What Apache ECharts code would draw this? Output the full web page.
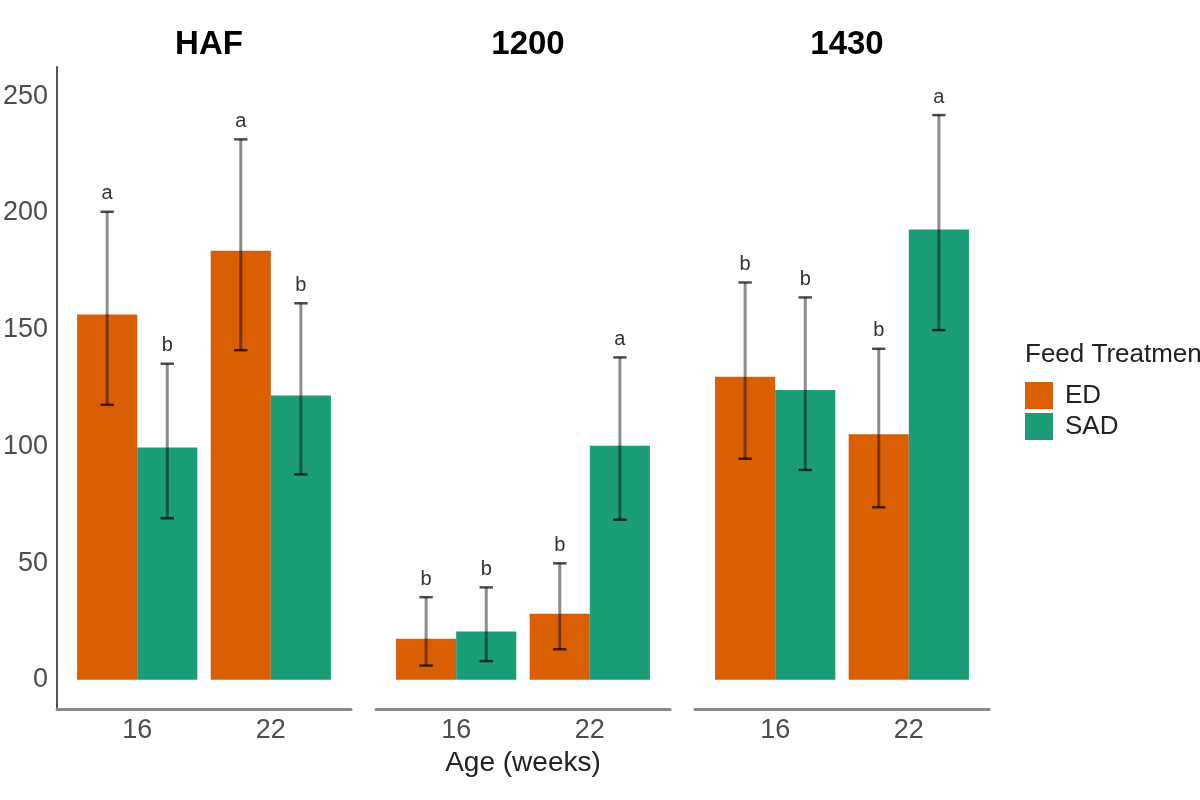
<!DOCTYPE html>
<html>
<head>
<meta charset="utf-8">
<script src="https://cdn.jsdelivr.net/npm/echarts@6/dist/echarts.min.js"></script>
<style>
    html, body { margin: 0; padding: 0; background: #fff; }
    #chart { width: 1200px; height: 800px; }
</style>
</head>
<body>
<div id="chart"></div>
<script>
// facets and x categories
var panels = ['HAF', '1200', '1430'];
var ages = ['16', '22'];
var treatments = ['ED', 'SAD'];

// means and error bar limits, per panel, per age
var edMean = [[156.5, 183.8], [17.6, 28.3], [129.8, 105.2]];
var edLow = [[117.8, 141.2], [6.1, 13.1], [94.7, 73.9]];
var edHigh = [[200.5, 231.5], [35.4, 49.9], [170.2, 141.8]];
var sadMean = [[99.5, 121.8], [20.7, 100.3], [124.1, 192.9]];
var sadLow = [[69.2, 88.0], [8.0, 68.6], [89.9, 149.8]];
var sadHigh = [[135.4, 161.3], [39.6, 138.1], [163.8, 241.9]];

// significance letters
var edLetters = [['a', 'a'], ['b', 'b'], ['b', 'b']];
var sadLetters = [['b', 'b'], ['b', 'a'], ['b', 'a']];

var colors = ['#D95F02', '#1B9E77'];
var font = 'Liberation Sans, Arial, sans-serif';

var gridLeft = [57, 376, 695];
var gridWidth = 294;

var chart = echarts.init(document.getElementById('chart'));

var grids = [], xAxes = [], yAxes = [], titles = [], series = [];

panels.forEach(function (p, pi) {
    grids.push({ left: gridLeft[pi], width: gridWidth, top: 67, height: 642 });

    titles.push({
        text: p,
        left: gridLeft[pi] + gridWidth / 2,
        top: 23,
        textAlign: 'center',
        textStyle: { fontFamily: font, fontSize: 33, fontWeight: 'bold', color: '#000' }
    });

    xAxes.push({
        type: 'value',
        gridIndex: pi,
        min: 0.4,
        max: 2.6,
        splitLine: { show: false },
        axisTick: { show: false },
        axisLine: { show: true, onZero: false, lineStyle: { color: '#8a8a8a', width: 3 } },
        axisLabel: {
            fontFamily: font,
            fontSize: 27,
            color: '#4D4D4D',
            margin: 8,
            showMinLabel: false,
            showMaxLabel: false,
            formatter: function (v) {
                return Math.abs(v - Math.round(v)) < 1e-6 && ages[Math.round(v) - 1] ? ages[Math.round(v) - 1] : '';
            }
        },
        name: pi === 1 ? 'Age (weeks)' : '',
        nameLocation: 'middle',
        nameGap: 40,
        nameTextStyle: { fontFamily: font, fontSize: 28, color: '#222' }
    });

    yAxes.push({
        type: 'value',
        gridIndex: pi,
        min: -12.5,
        max: 262.5,
        show: pi === 0,
        splitLine: { show: false },
        axisTick: { show: false },
        axisLine: { show: true, onZero: false, lineStyle: { color: '#555', width: 2 } },
        axisLabel: {
            fontFamily: font,
            fontSize: 27,
            color: '#4D4D4D',
            margin: 9,
            showMinLabel: false,
            showMaxLabel: false,
            formatter: function (v) {
                return (v >= 0 && v % 50 === 0) ? String(v) : '';
            }
        }
    });

    var groups = [
        { mean: edMean, low: edLow, high: edHigh, letters: edLetters, off: -0.225 },
        { mean: sadMean, low: sadLow, high: sadHigh, letters: sadLetters, off: 0.225 }
    ];

    groups.forEach(function (g, k) {
        var data = ages.map(function (a, i) {
            return [i + 1 + g.off, g.mean[pi][i], g.low[pi][i], g.high[pi][i]];
        });
        var letters = g.letters[pi];
        series.push({
            name: treatments[k],
            type: 'custom',
            xAxisIndex: pi,
            yAxisIndex: pi,
            itemStyle: { color: colors[k] },
            encode: { x: 0, y: 1 },
            data: data,
            renderItem: function (params, api) {
                var x = api.value(0);
                var m = api.value(1);
                var base = api.coord([x - 0.225, 0]);
                var top = api.coord([x + 0.225, m]);
                var hi = api.coord([x, api.value(3)]);
                var lo = api.coord([x, api.value(2)]);
                var cap = api.size([0.1, 0])[0] / 2;
                return {
                    type: 'group',
                    children: [{
                        type: 'rect',
                        shape: { x: base[0], y: top[1], width: top[0] - base[0], height: base[1] - top[1] },
                        style: { fill: colors[k] }
                    }, {
                        type: 'line',
                        shape: { x1: hi[0], y1: hi[1], x2: lo[0], y2: lo[1] },
                        style: { stroke: 'rgba(0,0,0,0.45)', lineWidth: 3 }
                    }, {
                        type: 'line',
                        shape: { x1: hi[0] - cap, y1: hi[1], x2: hi[0] + cap, y2: hi[1] },
                        style: { stroke: 'rgba(0,0,0,0.7)', lineWidth: 2.5 }
                    }, {
                        type: 'line',
                        shape: { x1: lo[0] - cap, y1: lo[1], x2: lo[0] + cap, y2: lo[1] },
                        style: { stroke: 'rgba(0,0,0,0.7)', lineWidth: 2.5 }
                    }, {
                        type: 'text',
                        style: {
                            text: letters[params.dataIndex],
                            x: hi[0],
                            y: hi[1] - 8,
                            textAlign: 'center',
                            textVerticalAlign: 'bottom',
                            fontFamily: font,
                            fontSize: 20,
                            fill: '#333'
                        }
                    }]
                };
            }
        });
    });
});

titles.push({
    text: 'Feed Treatment',
    left: 1020,
    top: 337,
    textStyle: { fontFamily: font, fontSize: 26, fontWeight: 'normal', color: '#222' }
});

chart.setOption({
    animation: false,
    color: colors,
    title: titles,
    grid: grids,
    xAxis: xAxes,
    yAxis: yAxes,
    legend: {
        data: treatments,
        orient: 'vertical',
        left: 1020,
        top: 377,
        icon: 'rect',
        itemWidth: 28,
        itemHeight: 27,
        itemGap: 4,
        selectedMode: false,
        textStyle: { fontFamily: font, fontSize: 26, color: '#222', padding: [0, 0, 0, 7] }
    },
    series: series
});
</script>
</body>
</html>
